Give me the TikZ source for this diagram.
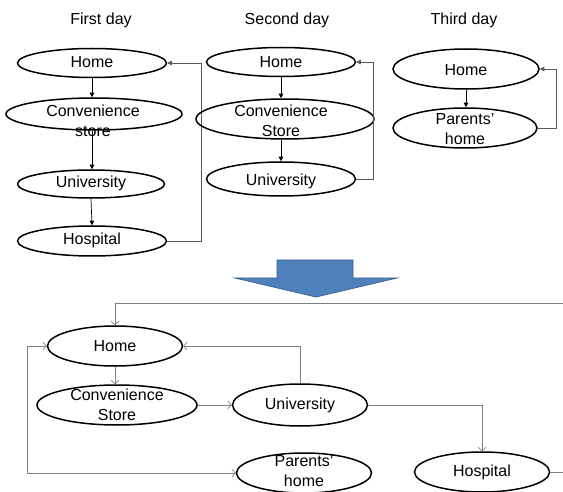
\documentclass[tikz,border=0pt]{standalone}
\usepackage{fontspec}
\setmainfont{Liberation Sans}
\usetikzlibrary{arrows.meta,shapes.geometric}
\definecolor{flowblue}{HTML}{4F81BD}
\definecolor{flowblueedge}{HTML}{3B6497}
\definecolor{linkgray}{HTML}{7F7F7F}
\begin{document}
\begin{tikzpicture}[x=1pt,y=-1pt,
  place/.style={draw, line width=1.5pt, ellipse, inner sep=0pt},
  lbl/.style={font=\fontsize{16}{19.5}\selectfont, align=center, inner sep=0pt},
  down/.style={line width=0.7pt, -{Triangle[length=4.5pt,width=4.5pt]}},
  back/.style={draw=black!65, line width=0.7pt, -{Triangle[length=4.5pt,width=4.5pt]}},
  link/.style={draw=linkgray, line width=0.7pt, -{Straight Barb[length=3.5pt,width=8pt]}},
  plain/.style={draw=linkgray, line width=0.7pt}]
\useasboundingbox (0,0) rectangle (563,492);

% ---- day headings
\node[lbl] (d1) at (101,20) {First day};
\node[lbl] (d2) at (287,20) {Second day};
\node[lbl] (d3) at (464,20) {Third day};

% ---- first day
\node[place, minimum width=149, minimum height=29] (h1) at (92,63) {};
\node[lbl] (h1t) at (92,62) {Home};
\node[place, minimum width=176, minimum height=32] (c1) at (94,114) {};
\node[lbl] (c1t) at (93,121) {Convenience\\store};
\node[place, minimum width=147, minimum height=28] (u1) at (91,184) {};
\node[lbl] (u1t) at (91,183) {University};
\node[place, minimum width=149, minimum height=30] (p1) at (92,241) {};
\node[lbl] (p1t) at (92,240) {Hospital};

\draw[down] (h1.south) -- (h1.south |- c1.north);
\draw[down] (h1.south |- c1.south) -- (h1.south |- u1.north);
\draw[down] (u1.south) -- (p1.north);
\draw[back] (p1.east) -- ++(34,0) |- (h1.east);

% ---- second day
\node[place, minimum width=149, minimum height=29] (h2) at (281,62) {};
\node[lbl] (h2t) at (281,62) {Home};
\node[place, minimum width=178, minimum height=40] (c2) at (285,119) {};
\node[lbl] (c2t) at (281,121) {Convenience\\Store};
\node[place, minimum width=149, minimum height=34] (u2) at (281,179) {};
\node[lbl] (u2t) at (281,181) {University};

\draw[down] (h2.south) -- (h2.south |- c2.north);
\draw[down] (h2.south |- c2.south) -- (u2.north);
\draw[back] (u2.east) -- ++(17,0) |- (h2.east);

% ---- third day
\node[place, minimum width=146, minimum height=40] (h3) at (466,69) {};
\node[lbl] (h3t) at (466,70) {Home};
\node[place, minimum width=144, minimum height=40] (r3) at (465,128) {};
\node[lbl] (r3t) at (465,129) {Parents'\\home};

\draw[down] (h3.south) -- (h3.south |- r3.north);
\draw[back] (r3.east) -- ++(19,0) |- (h3.east);

% ---- merging arrow
\draw[fill=flowblue, draw=flowblueedge, line width=0.8pt, line join=miter]
  (277,260) -- (353,260) -- (353,278) -- (397,278) -- (316,297)
  -- (235,278) -- (277,278) -- cycle;

% ---- merged route
\node[place, minimum width=135, minimum height=40] (h4) at (115,346) {};
\node[lbl] (h4t) at (115,346) {Home};
\node[place, minimum width=160, minimum height=40] (c4) at (117,405) {};
\node[lbl] (c4t) at (117,405) {Convenience\\Store};
\node[place, minimum width=135, minimum height=42] (u4) at (300,405) {};
\node[lbl] (u4t) at (300,405) {University};
\node[place, minimum width=135, minimum height=40] (r4) at (304,473) {};
\node[lbl] (r4t) at (304,471) {Parents'\\home};
\node[place, minimum width=135, minimum height=40] (s4) at (482,472) {};
\node[lbl] (s4t) at (482,472) {Hospital};

\coordinate (inlet) at (563,303);
\coordinate (outlet) at (563,472);

\draw[link] (inlet) -| (h4.north);
\draw[link] (h4.south) -- (h4.south |- c4.north);
\draw[link] (c4.east) -- (u4.west);
\draw[link] (u4.north) |- (h4.east);
\draw[link] (u4.east) -| (s4.north);
\draw[plain] (s4.east) -- (outlet);
\draw[link, {Straight Barb[length=3.5pt,width=8pt]}-{Straight Barb[length=3.5pt,width=8pt]}]
  (h4.west) -- ++(-19,0) |- (r4.west);
\end{tikzpicture}
\end{document}
